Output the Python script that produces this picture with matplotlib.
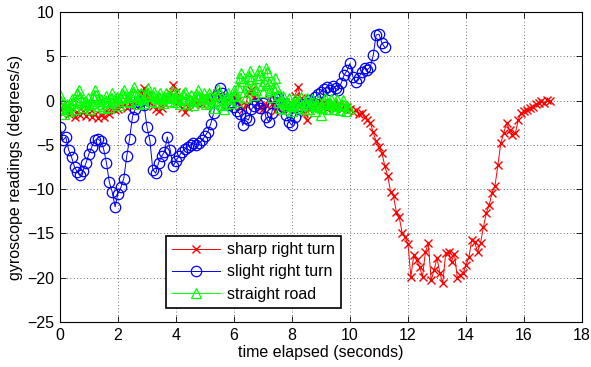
import numpy as np
import matplotlib
matplotlib.use("Agg")
import matplotlib.pyplot as plt

plt.rcParams['font.family'] = ['Liberation Sans', 'DejaVu Sans']

# sample intervals (s)
dt_sharp = 0.1
dt_slight = 0.1
dt_straight = 0.05

sharp = [
    -1.0, -0.5, -1.2, -1.5, -1.0, -1.8, -1.3, -1.6, -1.2, -1.7,
    -1.4, -1.9, -1.5, -2.0, -1.6, -1.8, -1.2, -1.5, -0.8, -1.1,
    -0.9, -0.6, -0.3, -0.8, -0.4, 0.0, -0.5, -0.2, 0.9, 1.4,
    0.6, -0.2, -0.6, -1.0, -1.2, -0.8, -0.3, 0.2, 0.9, 1.8,
    1.0, 0.0, -0.8, -1.3, -0.7, -0.2, 0.2, -0.3, 0.1, -0.4,
    0.0, 0.3, -0.2, 0.4, 0.8, 0.5, 0.2, -0.3, -0.6, -0.2,
    0.5, 0.0, -0.6, -1.0, -0.5, 0.8, 1.2, 0.4, -0.3, -0.8,
    -1.0, -0.5, 0.2, -0.4, -1.2, -0.8, -0.3, 0.0, -0.6, -1.0,
    -0.4, 0.5, 1.5, 0.3, -1.4, -2.2, -1.0, -0.5, -0.8, -0.3,
    -0.6, -0.2, -0.9, -0.5, -0.3, -0.8, -0.4, -1.0, -0.6, -0.7,
    -1.0, -1.3, -1.1, -1.5, -1.4, -1.8, -2.2, -2.5, -3.6, -4.6,
    -5.2, -5.9, -7.4, -8.5, -10.3, -10.8, -12.6, -13.2, -15.0, -15.4,
    -16.2, -19.9, -17.4, -18.0, -18.8, -19.9, -17.1, -16.1, -20.3, -19.1,
    -17.8, -19.5, -20.6, -17.2, -17.1, -18.2, -17.3, -20.0, -19.7, -19.5,
    -18.6, -17.7, -15.7, -16.0, -17.1, -16.1, -14.3, -12.7, -11.8, -10.4,
    -9.6, -7.3, -4.8, -3.7, -2.5, -3.3, -3.9, -3.7, -2.2, -1.4,
    -1.2, -1.1, -0.8, -0.7, -0.4, -0.3, -0.1, -0.3, 0.1, -0.1,
]

slight = [
    -3.0, -4.5, -4.1, -5.6, -6.4, -7.5, -8.1, -8.4, -7.9, -7.0,
    -6.0, -5.2, -4.5, -4.3, -4.6, -5.4, -7.0, -9.2, -10.3, -12.0,
    -10.5, -9.8, -8.8, -6.3, -4.3, -1.8, -0.9, -0.2, 0.0, -0.5,
    -3.0, -4.5, -7.8, -8.2, -7.0, -6.3, -5.8, -4.1, -5.6, -7.4,
    -6.8, -6.3, -5.8, -5.5, -5.2, -5.0, -4.8, -5.0, -4.8, -4.5,
    -4.0, -3.5, -2.6, -1.4, 0.6, 1.4, 0.8, 0.2, -0.5, -0.2,
    -0.7, -1.2, -1.5, -2.8, -2.0, -2.2, -1.0, -0.6, -0.3, -0.8,
    -0.3, -1.9, -2.4, -1.4, 0.3, 0.4, -0.2, -0.7, -1.6, -2.4,
    -2.8, -1.8, -1.0, -0.6, -0.4, -0.3, 0.1, -0.2, 0.4, 0.7,
    1.0, 1.3, 1.5, 1.2, 1.7, 1.4, 1.2, 2.0, 2.9, 3.4,
    4.2, 2.7, 2.1, 2.6, 3.2, 3.7, 3.5, 3.8, 5.1, 7.4,
    7.5, 6.5, 6.0,
]

straight = [
    0.6, 0.0, -0.8, -1.5, -1.0, -0.4, -1.2, -0.6, 0.2, -0.3,
    -0.9, 0.1, 0.8, 1.2, 0.4, -0.2, -0.7, 0.0, -0.5, 0.3,
    -0.4, -1.0, -0.3, 0.4, 1.2, 0.6, -0.1, -0.6, 0.2, -0.4,
    -0.8, 0.0, 0.5, -0.2, -0.7, 0.3, 0.8, 0.1, -0.3, 0.4,
    0.0, -0.5, 0.3, 0.9, 1.2, 0.5, -0.1, 0.4, -0.2, 0.6,
    1.0, 1.5, 0.7, 0.1, -0.4, 0.3, 0.8, 0.2, -0.3, 0.5,
    0.9, 1.4, 0.6, 0.0, 0.5, 1.0, 0.3, -0.2, 0.4, 0.8,
    0.2, -0.3, 0.3, 0.9, 0.4, -0.1, 0.6, 1.1, 0.3, -0.2,
    0.4, 0.8, 0.1, -0.4, 0.2, 0.7, 1.0, 0.3, -0.3, 0.2,
    0.6, 0.0, -0.5, 0.1, 0.7, 1.2, 0.5, -0.2, 0.3, 0.8,
    0.2, -0.4, 0.3, 0.9, 0.4, -0.3, -0.8, 0.0, 0.6, 1.3,
    0.7, 0.1, -0.5, -1.0, -0.4, 0.3, 0.9, 0.2, -0.3, 0.5,
    1.2, 0.6, 0.0, 1.5, 2.6, 3.1, 2.2, 1.0, 0.4, 1.8,
    2.8, 3.3, 2.4, 1.5, 0.6, 1.2, 2.5, 3.5, 2.9, 1.8,
    1.0, 2.2, 3.7, 3.2, 2.0, 1.2, 0.4, 1.4, 2.6, 1.5,
    0.6, -0.2, -0.8, 0.0, 0.5, -0.4, -1.0, -0.3, 0.3, -0.6,
    -1.2, -0.5, 0.2, -0.3, -0.8, 0.0, 0.4, -0.5, -1.0, -0.2,
    0.3, -0.4, -0.9, -0.2, 0.2, -0.6, -1.2, -0.5, 0.1, -0.7,
    -1.6, -0.8, -0.1, 0.3, -0.4, -1.0, -0.3, 0.2, -0.5, -0.9,
    -0.3, 0.2, -0.6, -1.1, -0.4, 0.1, -0.5, -1.2, -0.6, -0.8,
]

labels = ["sharp right turn", "slight right turn", "straight road"]
xticks = [0, 2, 4, 6, 8, 10, 12, 14, 16, 18]
yticks = [-25, -20, -15, -10, -5, 0, 5, 10]

t_sharp = np.arange(len(sharp)) * dt_sharp
t_slight = np.arange(len(slight)) * dt_slight
t_straight = np.arange(len(straight)) * dt_straight

fig = plt.figure(figsize=(5.91, 3.67), dpi=100)
ax = fig.add_axes([60/591, 45/367, 522/591, 310/367])

ax.plot(t_sharp, sharp, color=(1, 0, 0), marker='x', markersize=6, linewidth=0.7,
        markeredgewidth=1.0, label=labels[0])
ax.plot(t_slight, slight, color=(0, 0, 1), marker='o', markersize=7.5, linewidth=0.7,
        markerfacecolor='none', markeredgewidth=0.9, label=labels[1])
ax.plot(t_straight, straight, color=(0, 1, 0), marker='^', markersize=7.5, linewidth=0.7,
        markerfacecolor='none', markeredgewidth=0.9, label=labels[2])

ax.set_xlim(0, 18)
ax.set_ylim(-25, 10)
ax.set_xticks(xticks)
ax.set_yticks(yticks)
ax.set_yticklabels([str(v).replace('-', '\u2212') for v in yticks])
ax.tick_params(direction='in', top=True, right=True, length=4, width=0.6,
               labelsize=11.5, pad=4)
ax.grid(True, linestyle=(0, (1, 3)), color='black', linewidth=0.6, alpha=0.75)
for s in ax.spines.values():
    s.set_linewidth(0.8)

ax.set_xlabel("time elapsed (seconds)", fontsize=11.5, labelpad=2)
ax.set_ylabel("gyroscope readings (degrees/s)", fontsize=11.5, labelpad=3)

leg = ax.legend(loc='lower left', bbox_to_anchor=(0.203, 0.045), fontsize=11.5,
                fancybox=False, edgecolor='black', framealpha=1,
                handlelength=3.0, handletextpad=0.4, labelspacing=0.45,
                borderpad=0.4, borderaxespad=0)
leg.get_frame().set_linewidth(1.2)

fig.savefig("out.png", dpi=100)
